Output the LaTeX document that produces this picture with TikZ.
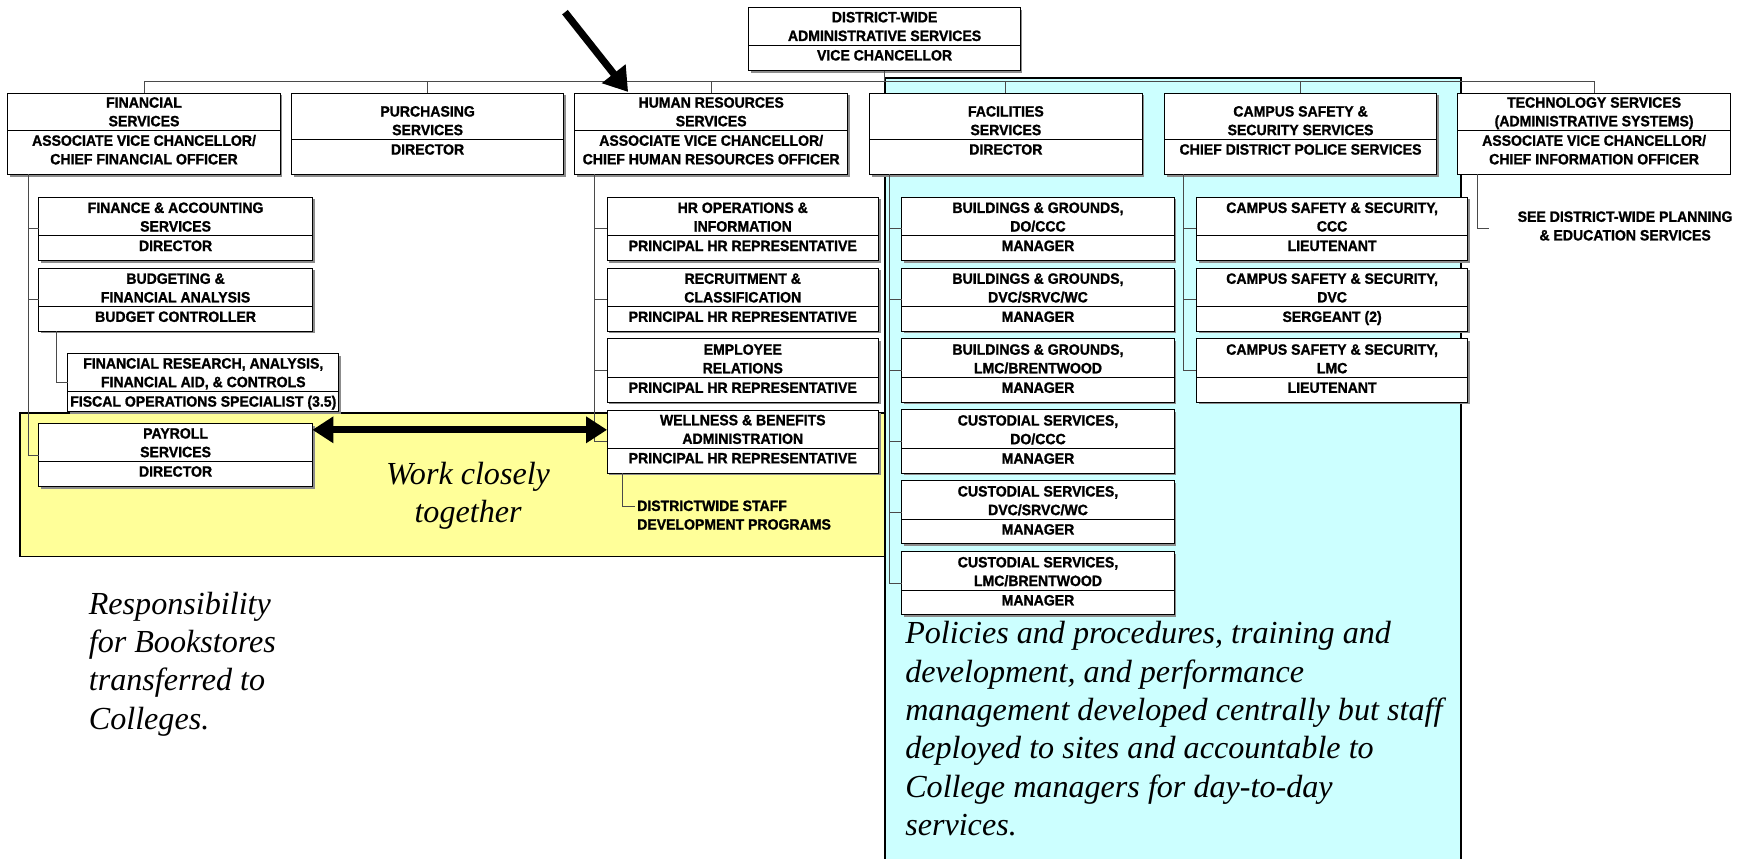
\documentclass[tikz,border=0pt]{standalone}
\usepackage{fontspec}
\setmainfont{Liberation Serif}
\newfontfamily\boxfont[FakeStretch=0.94, FakeBold=1.2]{Liberation Sans Bold}
\usetikzlibrary{arrows.meta,shadows}
\definecolor{paleyellow}{HTML}{FFFF99}
\definecolor{palecyan}{HTML}{CCFFFF}
\definecolor{linkgray}{HTML}{4A4A4A}

\tikzset{
  flatbox/.style={draw=black, line width=0.9pt, fill=white, inner sep=0pt, outer sep=0pt},
  orgbox/.style={flatbox, drop shadow={shadow xshift=2pt, shadow yshift=-2pt, fill=black!45, opacity=1}},
  boxtext/.style={font=\boxfont\fontsize{13.5}{16.8}\selectfont, align=center, inner sep=0pt},
  link/.style={draw=linkgray, line width=0.9pt},
  divider/.style={draw=black, line width=0.9pt},
  notetext/.style={font=\itshape\fontsize{29}{34.6}\selectfont, inner sep=0pt},
  pointerarrow/.style={line width=6.5pt, -{Triangle[length=21pt,width=26pt]}},
  pairarrow/.style={line width=6.5pt, {Triangle[length=19pt,width=23pt]}-{Triangle[length=19pt,width=23pt]}},
}

% unit box: style, name, left, top, right, bottom, divider, title, holder
\newcommand{\orgunit}[9]{%
  \node[#1, minimum width={(#5-#3)*1pt}, minimum height={(#6-#4)*1pt}] (#2) at ({(#3+#5)/2},{(#4+#6)/2}) {};
  \draw[divider] (#2.west |- 0,#7) -- (#2.east |- 0,#7);
  \node[boxtext, anchor=south, yshift=1pt] (#2-title) at ({(#3+#5)/2},#7) {#8\vphantom{(}};
  \node[boxtext, anchor=north, yshift=-3.6pt] (#2-holder) at ({(#3+#5)/2},#7) {\vphantom{(}#9};
}

\begin{document}
\begin{tikzpicture}[x=1pt, y=-1pt]
\useasboundingbox (0,0) rectangle (1568,775);

% shaded groupings
\fill[palecyan] (798.5,70) rectangle (1319,777);
\draw[line width=1.8pt] (798.5,778) -- (798.5,70) -- (1319,70) -- (1319,778);
\filldraw[fill=paleyellow, draw=black, line width=1.5pt] (18,373) rectangle (798.5,502.5);

% top level
\orgunit{orgbox}{dist}{676}{7}{921}{64}{41}{DISTRICT-WIDE\\ADMINISTRATIVE SERVICES}{VICE CHANCELLOR}

\orgunit{orgbox}{fin}{7}{84}{253}{157.5}{118}{FINANCIAL\\SERVICES}{ASSOCIATE VICE CHANCELLOR/\\CHIEF FINANCIAL OFFICER}
\orgunit{orgbox}{pur}{263}{84}{509}{157.5}{126}{PURCHASING\\SERVICES}{DIRECTOR}
\orgunit{orgbox}{hr}{519}{84}{765}{157.5}{118}{HUMAN RESOURCES\\SERVICES}{ASSOCIATE VICE CHANCELLOR/\\CHIEF HUMAN RESOURCES OFFICER}
\orgunit{orgbox}{fac}{785}{84}{1031}{157.5}{126}{FACILITIES\\SERVICES}{DIRECTOR}
\orgunit{orgbox}{cs}{1051}{84}{1297}{157.5}{126}{CAMPUS SAFETY \&\\SECURITY SERVICES}{CHIEF DISTRICT POLICE SERVICES}
\orgunit{flatbox}{tech}{1316}{84}{1562}{157.5}{118}{TECHNOLOGY SERVICES\\(ADMINISTRATIVE SYSTEMS)}{ASSOCIATE VICE CHANCELLOR/\\CHIEF INFORMATION OFFICER}

% financial services units
\orgunit{orgbox}{fa}{35}{178}{282}{235}{213}{FINANCE \& ACCOUNTING\\SERVICES}{DIRECTOR}
\orgunit{orgbox}{bud}{35}{242}{282}{299}{277}{BUDGETING \&\\FINANCIAL ANALYSIS}{BUDGET CONTROLLER}
\orgunit{orgbox}{res}{61}{319}{306}{371.5}{353.5}{FINANCIAL RESEARCH, ANALYSIS,\\FINANCIAL AID, \& CONTROLS}{FISCAL OPERATIONS SPECIALIST (3.5)}
\orgunit{orgbox}{pay}{35}{382.5}{282}{439}{416.7}{PAYROLL\\SERVICES}{DIRECTOR}

% human resources units
\orgunit{orgbox}{hra}{548}{178}{793}{235}{213}{HR OPERATIONS \&\\INFORMATION}{PRINCIPAL HR REPRESENTATIVE}
\orgunit{orgbox}{hrb}{548}{242}{793}{299}{277}{RECRUITMENT \&\\CLASSIFICATION}{PRINCIPAL HR REPRESENTATIVE}
\orgunit{orgbox}{hrc}{548}{306}{793}{363}{341}{EMPLOYEE\\RELATIONS}{PRINCIPAL HR REPRESENTATIVE}
\orgunit{orgbox}{hrd}{548}{370.5}{793}{427}{404.7}{WELLNESS \& BENEFITS\\ADMINISTRATION}{PRINCIPAL HR REPRESENTATIVE}

% facilities units
\orgunit{orgbox}{faa}{814}{178}{1060}{235}{213}{BUILDINGS \& GROUNDS,\\DO/CCC}{MANAGER}
\orgunit{orgbox}{fab}{814}{242}{1060}{299}{277}{BUILDINGS \& GROUNDS,\\DVC/SRVC/WC}{MANAGER}
\orgunit{orgbox}{fac3}{814}{306}{1060}{363}{341}{BUILDINGS \& GROUNDS,\\LMC/BRENTWOOD}{MANAGER}
\orgunit{orgbox}{fad}{814}{370}{1060}{427}{405}{CUSTODIAL SERVICES,\\DO/CCC}{MANAGER}
\orgunit{orgbox}{fae}{814}{434}{1060}{491}{469}{CUSTODIAL SERVICES,\\DVC/SRVC/WC}{MANAGER}
\orgunit{orgbox}{faf}{814}{498}{1060}{555}{533}{CUSTODIAL SERVICES,\\LMC/BRENTWOOD}{MANAGER}

% campus safety units
\orgunit{orgbox}{csa}{1080}{178}{1325}{235}{213}{CAMPUS SAFETY \& SECURITY,\\CCC}{LIEUTENANT}
\orgunit{orgbox}{csb}{1080}{242}{1325}{299}{277}{CAMPUS SAFETY \& SECURITY,\\DVC}{SERGEANT (2)}
\orgunit{orgbox}{csc}{1080}{306}{1325}{363}{341}{CAMPUS SAFETY \& SECURITY,\\LMC}{LIEUTENANT}

% reporting lines
\coordinate (bus) at (0,73.5);
\draw[link] (fin.north) -- (fin.north |- bus) -- (tech.north |- bus) -- (tech.north);
\foreach \u in {pur,hr,fac,cs} \draw[link] (\u.north) -- (\u.north |- bus);
\draw[link] (dist.south) -- (dist.south |- bus);

\coordinate (fintrunk) at ([xshift=19pt]fin.south west);
\foreach \u in {fa,bud,pay} \draw[link] (fintrunk) |- (\u.west);
\draw[link] ([xshift=16pt]bud.south west) |- (res.west);

\coordinate (hrtrunk) at ([xshift=18pt]hr.south west);
\foreach \u in {hra,hrb,hrc,hrd} \draw[link] (hrtrunk) |- (\u.west);

\coordinate (factrunk) at ([xshift=18pt]fac.south west);
\foreach \u in {faa,fab,fac3,fad,fae,faf} \draw[link] (factrunk) |- (\u.west);

\coordinate (cstrunk) at ([xshift=17pt]cs.south west);
\foreach \u in {csa,csb,csc} \draw[link] (cstrunk) |- (\u.west);

% plain-text units
\node[boxtext, anchor=west, align=left] (staffdev) at (575,465) {DISTRICTWIDE STAFF\\DEVELOPMENT PROGRAMS};
\draw[link] ([xshift=14pt]hrd.south west) |- ([xshift=-2pt]staffdev.west |- 0,457);

\node[boxtext] (seeplan) at (1467,204) {SEE DISTRICT-WIDE PLANNING\\\& EDUCATION SERVICES};
\coordinate (seelink) at (1344,206);
\draw[link] ([xshift=18pt]tech.south west) |- (seelink);

% emphasis arrows
\coordinate (pointer) at (510,11);
\draw[pointerarrow] (pointer) -- ([xshift=48pt,yshift=1pt]hr.north west);
\coordinate (pairrow) at (0,388);
\draw[pairarrow] (pay.east |- pairrow) -- (hrd.west |- pairrow);

% notes
\node[notetext, align=center, anchor=north] (together) at (422.5,417) {Work closely\\together};
\node[notetext, align=left, anchor=north west] (bookstores) at (80,534) {Responsibility\\for Bookstores\\transferred to\\Colleges.};
\node[notetext, align=left, anchor=north west] (policies) at (817,561) {Policies and procedures, training and\\development, and performance\\management developed centrally but staff\\deployed to sites and accountable to\\College managers for day-to-day\\services.};
\end{tikzpicture}
\end{document}
